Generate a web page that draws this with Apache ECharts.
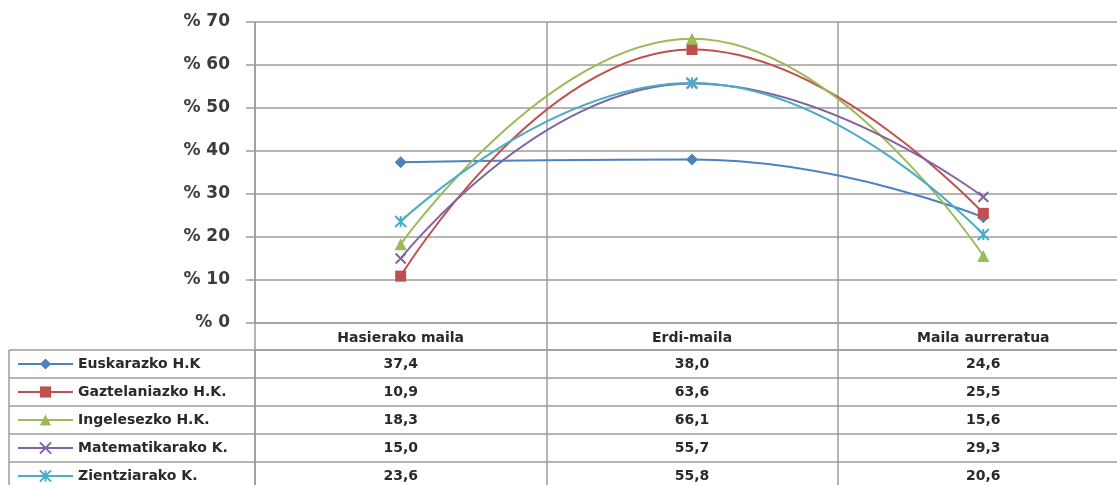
<html>
<head>
    <meta charset="utf-8">
    <title>Mailak</title>
    <script src="https://cdn.jsdelivr.net/npm/echarts@6/dist/echarts.min.js"></script>
    <style>
        body { margin: 0; background: #fff; }
        #chartmain { width: 1117px; height: 485px; }
    </style>
</head>
<body>
    <div id="chartmain"></div>
    <script type="text/javascript">
        // datuak
        var categories = ['Hasierako maila', 'Erdi-maila', 'Maila aurreratua'];
        var seriesNames = ['Euskarazko H.K', 'Gaztelaniazko H.K.', 'Ingelesezko H.K.', 'Matematikarako K.', 'Zientziarako K.'];
        var euskarazko = [37.4, 38.0, 24.6];
        var gaztelaniazko = [10.9, 63.6, 25.5];
        var ingelesezko = [18.3, 66.1, 15.6];
        var matematikarako = [15.0, 55.7, 29.3];
        var zientziarako = [23.6, 55.8, 20.6];
        var yTicks = [0, 10, 20, 30, 40, 50, 60, 70];

        var allValues = [euskarazko, gaztelaniazko, ingelesezko, matematikarako, zientziarako];
        var colors = ['#4F81BD', '#C0504D', '#9BBB59', '#8064A2', '#4BACC6'];
        var symbols = ['diamond', 'rect', 'triangle', 'path://M0,0L10,10M10,0L0,10', 'path://M0,0L10,10M10,0L0,10M5,0L5,10'];
        var symbolSizes = [12, 11, 12, 10, 11];

        var gridColor = '#9d9d9d';
        var font = 'DejaVu Sans';
        var textColor = '#2a2a2a';
        var tableTop = 350, rowH = 28;

        var myChart = echarts.init(document.getElementById('chartmain'));

        var lineSeries = seriesNames.map(function (name, i) {
            var stroke = symbols[i].indexOf('path://') === 0;
            return {
                name: name,
                type: 'line',
                smooth: 0.5,
                xAxisIndex: 0,
                yAxisIndex: 0,
                data: allValues[i],
                symbol: symbols[i],
                symbolSize: symbolSizes[i],
                showAllSymbol: true,
                lineStyle: { width: 2, color: colors[i] },
                itemStyle: {
                    color: colors[i],
                    borderColor: colors[i],
                    borderWidth: stroke ? 2 : 0
                },
                z: 3
            };
        });

        // taulako balioak
        var cells = [];
        allValues.forEach(function (vals, i) {
            vals.forEach(function (v, j) { cells.push([j, i, v]); });
        });

        var tableLines = [{
            type: 'line', shape: { x1: 9, y1: tableTop, x2: 9, y2: 485 },
            style: { stroke: gridColor, lineWidth: 1.5 }
        }];
        for (var r = 0; r < seriesNames.length; r++) {
            tableLines.push({
                type: 'line', shape: { x1: 9, y1: tableTop + r * rowH, x2: 255, y2: tableTop + r * rowH },
                style: { stroke: gridColor, lineWidth: 1.5 }
            });
        }

        myChart.setOption({
            animation: false,
            textStyle: { fontFamily: font },
            grid: [
                { left: 255, right: -12, top: 22, bottom: 162, outerBoundsMode: 'none' },
                { left: 255, right: -12, top: tableTop, height: rowH * seriesNames.length, outerBoundsMode: 'none' }
            ],
            legend: {
                data: seriesNames,
                orient: 'vertical',
                left: 17,
                top: tableTop + 7,
                height: 200,
                padding: 0,
                itemWidth: 55,
                itemHeight: 14,
                itemGap: 14,
                textStyle: { fontSize: 14, color: textColor, fontWeight: 'bold', fontFamily: font, lineHeight: 14 },
                selectedMode: false
            },
            xAxis: [
                {
                    type: 'category', gridIndex: 0, data: categories, boundaryGap: true,
                    axisLine: { lineStyle: { color: gridColor, width: 1.5 } },
                    axisTick: { show: true, interval: 0, length: 27, lineStyle: { color: gridColor, width: 1.5 } },
                    axisLabel: { interval: 0, margin: 8, fontSize: 14, color: textColor, fontWeight: 'bold', fontFamily: font },
                    splitLine: { show: true, interval: 0, lineStyle: { color: gridColor, width: 1.5 } }
                },
                {
                    type: 'category', gridIndex: 1, data: categories, boundaryGap: true, position: 'top',
                    axisLine: { lineStyle: { color: gridColor, width: 1.5 } },
                    axisTick: { show: false },
                    axisLabel: { show: false },
                    splitLine: { show: true, interval: 0, lineStyle: { color: gridColor, width: 1.5 } }
                }
            ],
            yAxis: [
                {
                    type: 'value', gridIndex: 0, min: yTicks[0], max: yTicks[yTicks.length - 1], interval: 10,
                    axisLine: { show: true, lineStyle: { color: gridColor, width: 1.5 } },
                    axisTick: { show: true, length: 9, lineStyle: { color: gridColor, width: 1.5 } },
                    axisLabel: {
                        margin: 25, fontSize: 17, color: '#3c3c3c', fontWeight: 'bold', fontFamily: font,
                        formatter: function (v) { return '% ' + v; }
                    },
                    splitLine: { show: true, lineStyle: { color: gridColor, width: 1.5 } }
                },
                {
                    type: 'category', gridIndex: 1, data: seriesNames, inverse: true, boundaryGap: true,
                    axisLine: { show: true, lineStyle: { color: gridColor, width: 1.5 } },
                    axisTick: { show: false },
                    axisLabel: { show: false },
                    splitLine: { show: true, interval: 0, lineStyle: { color: gridColor, width: 1.5 } }
                }
            ],
            graphic: tableLines,
            series: lineSeries.concat([{
                name: 'taula',
                type: 'scatter',
                xAxisIndex: 1,
                yAxisIndex: 1,
                data: cells,
                symbolSize: 1,
                itemStyle: { color: 'transparent' },
                silent: true,
                label: {
                    show: true,
                    position: 'inside',
                    fontSize: 14,
                    color: textColor,
                    opacity: 1,
                    textBorderWidth: 0,
                    fontWeight: 'bold',
                    fontFamily: font,
                    formatter: function (p) { return p.value[2].toFixed(1).replace('.', ','); }
                }
            }])
        });
    </script>
</body>
</html>
